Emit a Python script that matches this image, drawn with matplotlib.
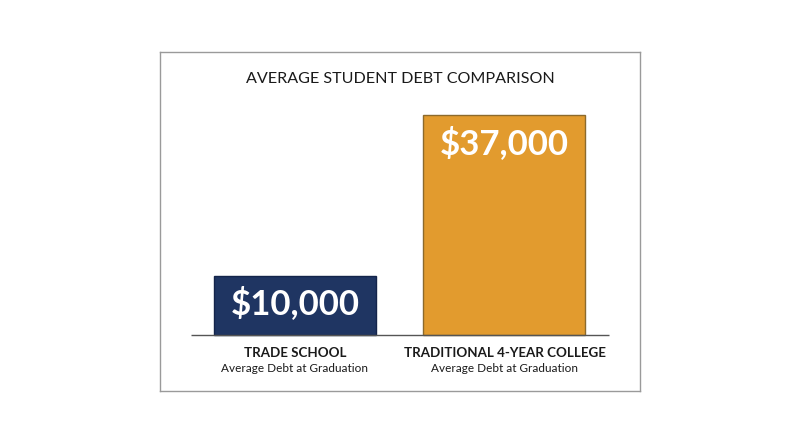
import matplotlib.pyplot as plt

# --- data ---
categories = ["TRADE SCHOOL", "TRADITIONAL 4-YEAR COLLEGE"]
subtitles = ["Average Debt at Graduation", "Average Debt at Graduation"]
debt = [10000, 37000]
bar_colors = ["#1f3562", "#e29b2e"]
edge_colors = ["#14244a", "#8c6a2c"]

plt.rcParams['font.family'] = ['Lato', 'DejaVu Sans']

fig = plt.figure(figsize=(8, 4.47), dpi=100)
ax = fig.add_axes([160 / 800, (447 - 391) / 447, 480 / 800, 339 / 447])

positions = list(range(len(categories)))
ax.bar(positions, debt, width=0.773, color=bar_colors,
       edgecolor=edge_colors, linewidth=1.0, zorder=2)

# axis limits chosen so the bars sit inside the framed box like the original
ax.set_xlim(-0.644, 1.647)
ax.set_ylim(-9418, 47600)
ax.hlines(0, -0.496, 1.499, color="#555555", linewidth=1.0, zorder=3)

for x, v in zip(positions, debt):
    ax.annotate(f"${v:,}", xy=(x, v), xytext=(0, -20), textcoords="offset points",
                ha="center", va="center", color="white", fontsize=25,
                fontweight="bold")

for x, cat, sub in zip(positions, categories, subtitles):
    ax.annotate(cat, xy=(x, 0), xytext=(0, -13), textcoords="offset points",
                ha="center", va="center", color="#1a1a1a", fontsize=9.6,
                fontweight="bold")
    ax.annotate(sub, xy=(x, 0), xytext=(0, -24), textcoords="offset points",
                ha="center", va="center", color="#1a1a1a", fontsize=8.5)

ax.text(0.5, 1 - 27 / 339, "AVERAGE STUDENT DEBT COMPARISON", transform=ax.transAxes,
        ha="center", va="center", fontsize=11.6, color="#1a1a1a")

ax.set_xticks([])
ax.set_yticks([])
for s in ax.spines.values():
    s.set_color("#9a9a9a")
    s.set_linewidth(1.0)

fig.savefig("out.png", dpi=100)
